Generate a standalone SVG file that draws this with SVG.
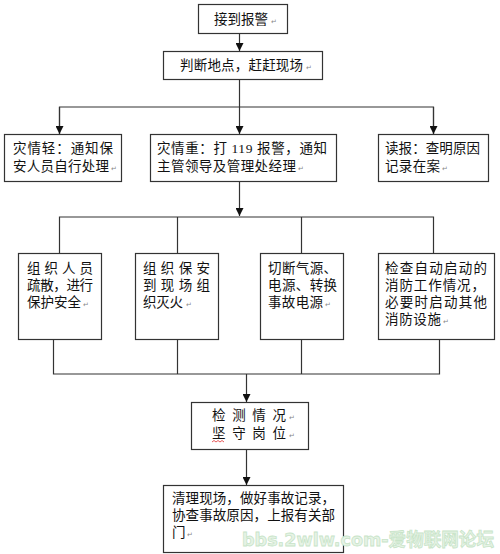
<svg xmlns="http://www.w3.org/2000/svg" width="500" height="554" viewBox="0 0 500 554">
<defs>
<marker id="ah" viewBox="0 0 8 8" refX="8" refY="4" markerWidth="8" markerHeight="8" markerUnits="userSpaceOnUse" orient="auto">
<path d="M0,0 L8,4 L0,8 Z" fill="#111"/>
</marker>
<style>
.box{fill:#fff;stroke:#333;stroke-width:1.2}
.t{font-family:"Liberation Serif","Noto Sans CJK SC",serif;font-size:13.5px;fill:#111}
.pm{font-family:"DejaVu Sans",sans-serif;font-size:7px;fill:#888}
.ln{fill:none;stroke:#333;stroke-width:1.2}
.wm{font-family:"DejaVu Sans","Noto Sans CJK SC",sans-serif;font-size:18px;font-weight:bold;fill:#e6f3e6;stroke:#c8e4c8;stroke-width:0.8}
</style>
</defs>
<rect width="500" height="554" fill="#fff"/>
<g id="connectors">
<line class="ln" x1="239.5" y1="33" x2="239.5" y2="51" marker-end="url(#ah)"/>
<line class="ln" x1="239.5" y1="79" x2="239.5" y2="134" marker-end="url(#ah)"/>
<polyline class="ln" points="59.5,134 59.5,107 433.5,107 433.5,134"/>
<line class="ln" x1="59.5" y1="107" x2="59.5" y2="134" marker-end="url(#ah)"/>
<line class="ln" x1="433.5" y1="107" x2="433.5" y2="134" marker-end="url(#ah)"/>
<line class="ln" x1="239.5" y1="181" x2="239.5" y2="216" marker-end="url(#ah)"/>
<polyline class="ln" points="59.5,253 59.5,217 433.5,217 433.5,253"/>
<line class="ln" x1="177.5" y1="217" x2="177.5" y2="253"/>
<line class="ln" x1="301.5" y1="217" x2="301.5" y2="253"/>
<polyline class="ln" points="53.5,339 53.5,374 439.5,374 439.5,339"/>
<line class="ln" x1="177.5" y1="339" x2="177.5" y2="374"/>
<line class="ln" x1="301.5" y1="339" x2="301.5" y2="374"/>
<line class="ln" x1="246.5" y1="374" x2="246.5" y2="402" marker-end="url(#ah)"/>
<line class="ln" x1="246.5" y1="449" x2="246.5" y2="485" marker-end="url(#ah)"/>
</g>
<g id="n1">
<rect class="box" x="198.5" y="4.5" width="89" height="29"/>
<text class="t" x="214" y="24">接到报警</text><text class="pm" x="271" y="24">↵</text>
</g>
<g id="n2">
<rect class="box" x="163.5" y="51.5" width="159" height="28"/>
<text class="t" x="180" y="70" textLength="123" lengthAdjust="spacing">判断地点，赶赶现场</text><text class="pm" x="306" y="70">↵</text>
</g>
<g id="n3a">
<rect class="box" x="4.5" y="134.5" width="117" height="47"/>
<text class="t" x="13" y="153" textLength="100" lengthAdjust="spacing">灾情轻：通知保</text>
<text class="t" x="13" y="171" textLength="96" lengthAdjust="spacing">安人员自行处理</text><text class="pm" x="111" y="171">↵</text>
</g>
<g id="n3b">
<rect class="box" x="150.5" y="134.5" width="186" height="47"/>
<text class="t" x="157" y="153" textLength="170" lengthAdjust="spacing">灾情重：打 119 报警，通知</text>
<text class="t" x="157" y="171" textLength="139" lengthAdjust="spacing">主管领导及管理处经理</text><text class="pm" x="298" y="171">↵</text>
</g>
<g id="n3c">
<rect class="box" x="378.5" y="134.5" width="110" height="47"/>
<text class="t" x="385" y="153" textLength="95" lengthAdjust="spacing">读报：查明原因</text>
<text class="t" x="385" y="171" textLength="55" lengthAdjust="spacing">记录在案</text><text class="pm" x="442" y="171">↵</text>
</g>
<g id="n4a">
<rect class="box" x="18.5" y="253.5" width="83" height="86"/>
<text class="t" x="27" y="273" textLength="66" lengthAdjust="spacing">组织人员</text>
<text class="t" x="27" y="290" textLength="66" lengthAdjust="spacing">疏散，进行</text>
<text class="t" x="27" y="307" textLength="54" lengthAdjust="spacing">保护安全</text><text class="pm" x="83" y="307">↵</text>
</g>
<g id="n4b">
<rect class="box" x="135.5" y="253.5" width="83" height="86"/>
<text class="t" x="143" y="273" textLength="67" lengthAdjust="spacing">组织保安</text>
<text class="t" x="143" y="290" textLength="67" lengthAdjust="spacing">到现场组</text>
<text class="t" x="143" y="307" textLength="40" lengthAdjust="spacing">织灭火</text><text class="pm" x="186" y="307">↵</text>
</g>
<g id="n4c">
<rect class="box" x="260.5" y="253.5" width="83" height="86"/>
<text class="t" x="268" y="273" textLength="69" lengthAdjust="spacing">切断气源、</text>
<text class="t" x="268" y="290" textLength="69" lengthAdjust="spacing">电源、转换</text>
<text class="t" x="268" y="307" textLength="55" lengthAdjust="spacing">事故电源</text><text class="pm" x="325" y="307">↵</text>
</g>
<g id="n4d">
<rect class="box" x="378.5" y="253.5" width="116" height="86"/>
<text class="t" x="385" y="273" textLength="102" lengthAdjust="spacing">检查自动启动的</text>
<text class="t" x="385" y="290" textLength="100" lengthAdjust="spacing">消防工作情况，</text>
<text class="t" x="385" y="307" textLength="102" lengthAdjust="spacing">必要时启动其他</text>
<text class="t" x="385" y="324" textLength="56" lengthAdjust="spacing">消防设施</text><text class="pm" x="443" y="324">↵</text>
</g>
<g id="n5">
<rect class="box" x="191.5" y="402.5" width="117" height="47"/>
<text class="t" x="212" y="420" textLength="74" lengthAdjust="spacing">检测情况</text><text class="pm" x="289" y="420">↵</text>
<text class="t" x="212" y="438" textLength="74" lengthAdjust="spacing">坚守岗位</text><text class="pm" x="289" y="438">↵</text>
<path d="M212,442 l2,-1.5 l2,1.5 l2,-1.5 l2,1.5 l2,-1.5 l2,1.5" fill="none" stroke="#e03030" stroke-width="0.8"/>
</g>
<g id="n6">
<rect class="box" x="163.5" y="485.5" width="180" height="67"/>
<text class="t" x="172" y="503" textLength="163" lengthAdjust="spacing">清理现场，做好事故记录，</text>
<text class="t" x="172" y="520" textLength="163" lengthAdjust="spacing">协查事故原因，上报有关部</text>
<text class="t" x="172" y="537">门</text><text class="pm" x="187" y="537">↵</text>
</g>
<text class="wm" x="242" y="546" textLength="252" lengthAdjust="spacingAndGlyphs">bbs.2wlw.com-爱物联网论坛</text>
</svg>
